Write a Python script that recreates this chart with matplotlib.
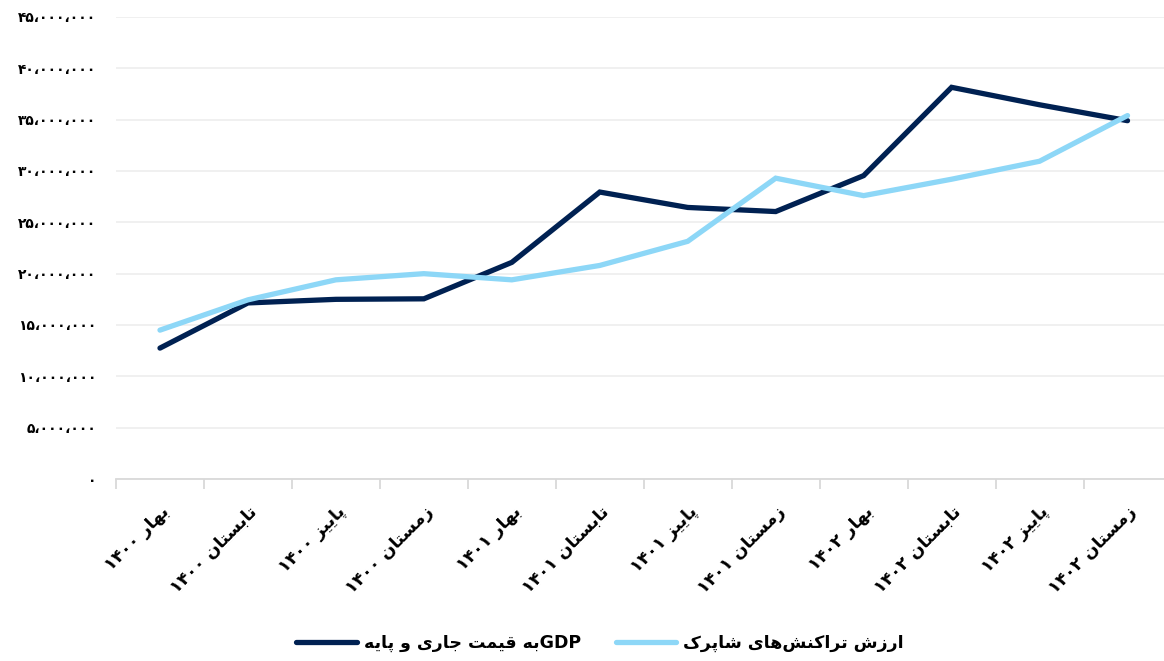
import re
import matplotlib
matplotlib.use("Agg")
import matplotlib.pyplot as plt
from matplotlib.ticker import FixedLocator, MultipleLocator, FuncFormatter

# ---------------- data ----------------
categories = ["بهار ۱۴۰۰", "تابستان ۱۴۰۰", "پاییز ۱۴۰۰", "زمستان ۱۴۰۰",
              "بهار ۱۴۰۱", "تابستان ۱۴۰۱", "پاییز ۱۴۰۱", "زمستان ۱۴۰۱",
              "بهار ۱۴۰۲", "تابستان ۱۴۰۲", "پاییز ۱۴۰۲", "زمستان ۱۴۰۲"]
gdp = [12.75e6, 17.15e6, 17.5e6, 17.55e6, 21.1e6, 27.95e6,
       26.45e6, 26.05e6, 29.55e6, 38.15e6, 36.45e6, 34.9e6]
shaparak = [14.5e6, 17.45e6, 19.4e6, 20.0e6, 19.4e6, 20.8e6,
            23.15e6, 29.3e6, 27.6e6, 29.2e6, 30.95e6, 35.4e6]
series_names = ["GDPبه قیمت جاری و پایه", "ارزش تراکنش‌های شاپرک"]
y_max = 45e6
y_step = 5e6

# ---------------- minimal Arabic/Persian shaping ----------------
FORMS = {
    'ا': ('\uFE8D', '\uFE8E', None, None),
    'ب': ('\uFE8F', '\uFE90', '\uFE91', '\uFE92'),
    'پ': ('\uFB56', '\uFB57', '\uFB58', '\uFB59'),
    'ت': ('\uFE95', '\uFE96', '\uFE97', '\uFE98'),
    'ج': ('\uFE9D', '\uFE9E', '\uFE9F', '\uFEA0'),
    'ر': ('\uFEAD', '\uFEAE', None, None),
    'ز': ('\uFEAF', '\uFEB0', None, None),
    'س': ('\uFEB1', '\uFEB2', '\uFEB3', '\uFEB4'),
    'ش': ('\uFEB5', '\uFEB6', '\uFEB7', '\uFEB8'),
    'ق': ('\uFED5', '\uFED6', '\uFED7', '\uFED8'),
    'ل': ('\uFEDD', '\uFEDE', '\uFEDF', '\uFEE0'),
    'م': ('\uFEE1', '\uFEE2', '\uFEE3', '\uFEE4'),
    'ن': ('\uFEE5', '\uFEE6', '\uFEE7', '\uFEE8'),
    'ه': ('\uFEE9', '\uFEEA', '\uFEEB', '\uFEEC'),
    'و': ('\uFEED', '\uFEEE', None, None),
    'ک': ('\uFB8E', '\uFB8F', '\uFB90', '\uFB91'),
    'ی': ('\uFBFC', '\uFBFD', '\uFBFE', '\uFBFF'),
}


def dual(c):
    return c in FORMS and FORMS[c][2] is not None


def shape(s):
    out = []
    for i, c in enumerate(s):
        if c not in FORMS:
            if c != '\u200c':
                out.append(c)
            continue
        prev = s[i - 1] if i > 0 else ''
        nxt = s[i + 1] if i + 1 < len(s) else ''
        jp = dual(prev)
        jn = dual(c) and nxt in FORMS
        iso, fin, ini, med = FORMS[c]
        if jp and jn:
            out.append(med)
        elif jp:
            out.append(fin)
        elif jn:
            out.append(ini)
        else:
            out.append(iso)
    shaped = ''.join(out)
    tokens = re.findall(r'[0-9A-Za-z۰-۹]+|.', shaped)
    return ''.join(reversed(tokens))


FA_DIGITS = str.maketrans('0123456789', '۰۱۲۳۴۵۶۷۸۹')


def fa_num(v, pos=None):
    return f"{int(round(v)):,}".replace(',', '،').translate(FA_DIGITS)


# ---------------- figure ----------------
W, H = 1164, 661
fig = plt.figure(figsize=(W / 100, H / 100), dpi=100)
plt.rcParams['font.family'] = ['DejaVu Sans']
ax = fig.add_axes([116 / W, (H - 479) / H, (1171.5 - 116) / W, (479 - 17) / H])

x = list(range(len(categories)))
dark = '#002152'
light = '#8dd7f7'
l1, = ax.plot(x, gdp, color=dark, lw=3.8, solid_capstyle='round',
              solid_joinstyle='miter', zorder=3)
l2, = ax.plot(x, shaparak, color=light, lw=3.8, solid_capstyle='round',
              solid_joinstyle='miter', zorder=3)

ax.set_xlim(-0.5, len(categories) - 0.5)
ax.set_ylim(0, y_max)
ax.yaxis.set_major_locator(MultipleLocator(y_step))
ax.yaxis.set_major_formatter(FuncFormatter(fa_num))
ax.grid(axis='y', color='#efefef', lw=1.3, zorder=0)
ax.set_axisbelow(True)

for s in ['top', 'right', 'left']:
    ax.spines[s].set_visible(False)
ax.spines['bottom'].set_color('#d9d9d9')
ax.spines['bottom'].set_linewidth(1.3)

ax.tick_params(axis='y', length=0, pad=14, labelsize=10)
for t in ax.get_yticklabels():
    t.set_fontweight('bold')

ax.set_xticks(x)
ax.set_xticklabels([shape(c) for c in categories], rotation=45, ha='right',
                   va='top', rotation_mode='anchor', fontsize=12.5,
                   fontweight='bold')
ax.tick_params(axis='x', which='major', length=0, pad=17)
ax.xaxis.set_minor_locator(FixedLocator([i - 0.5 for i in range(len(categories) + 1)]))
ax.tick_params(axis='x', which='minor', length=7, width=1.3, color='#d9d9d9',
               direction='out')

fig.legend([l1, l2], [shape(n) for n in series_names], loc='center',
           bbox_to_anchor=(600 / W, 1 - 643 / H), ncol=2, frameon=False,
           handlelength=3.5, columnspacing=2.0, handletextpad=0.4,
           prop={'weight': 'bold', 'size': 12.5})

fig.savefig('out.png', dpi=100, facecolor='white')
